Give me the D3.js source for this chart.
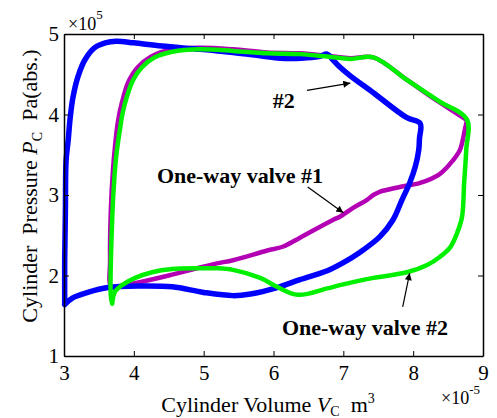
<!DOCTYPE html>
<html>
<head>
<meta charset="utf-8">
<script src="https://cdn.jsdelivr.net/npm/d3@7"></script>
<style>
  body { margin: 0; background: #fff; }
  svg { display: block; font-family: "Liberation Serif", "Times New Roman", serif; }
  text { white-space: pre; }
</style>
</head>
<body>
<svg id="chart" width="497" height="418"></svg>
<script>
// --- Data (volume x1e-5 m^3, pressure x1e5 Pa) ---
const xTicks = [3, 4, 5, 6, 7, 8, 9];
const yTicks = [1, 2, 3, 4, 5];

// baseline cycle (blue)
const blueV = [3.01, 3.01, 3.02, 3.03, 3.06, 3.09, 3.13, 3.20, 3.30, 3.44, 3.59, 3.75, 4.00, 4.40, 4.95, 5.42, 5.81, 6.10, 6.40, 6.65, 6.77, 6.85, 6.95, 7.10, 7.43, 7.91, 8.10,
               8.09, 8.08, 8.03, 7.95, 7.84, 7.71, 7.52, 7.24, 7.00, 6.77, 6.38, 6.05, 5.67, 5.42, 5.00, 4.55, 4.06, 3.63, 3.34, 3.12, 3.01];
const blueP = [1.64, 2.20, 2.80, 3.43, 3.68, 3.97, 4.22, 4.47, 4.68, 4.83, 4.89, 4.91, 4.89, 4.85, 4.81, 4.77, 4.73, 4.70, 4.70, 4.72, 4.75, 4.68, 4.59, 4.48, 4.27, 3.96, 3.89,
               3.70, 3.56, 3.35, 3.15, 2.94, 2.69, 2.48, 2.29, 2.16, 2.06, 1.95, 1.85, 1.77, 1.75, 1.79, 1.86, 1.87, 1.85, 1.79, 1.72, 1.64];

// one-way valve #1 (magenta)
const magentaV = [8.77, 8.74, 8.67, 8.57, 8.38, 8.10, 7.81, 7.52, 7.43, 7.34, 7.14, 6.95, 6.85, 6.38, 6.14, 5.91, 5.42, 5.19, 4.95, 4.50, 4.10, 3.85, 3.68,
                  3.66, 3.67, 3.70, 3.73, 3.77, 3.83, 3.92, 4.05, 4.25, 4.55, 4.95, 5.42, 5.91, 6.38, 6.77, 7.10, 7.43, 7.91, 8.38, 8.77];
const magentaP = [3.93, 3.81, 3.56, 3.43, 3.26, 3.15, 3.10, 3.04, 3.00, 2.94, 2.84, 2.73, 2.69, 2.47, 2.36, 2.31, 2.19, 2.15, 2.10, 2.00, 1.92, 1.88, 1.86,
                  2.20, 2.80, 3.30, 3.60, 3.90, 4.15, 4.40, 4.58, 4.72, 4.81, 4.83, 4.81, 4.77, 4.76, 4.73, 4.70, 4.71, 4.43, 4.15, 3.93];

// one-way valve #2 (green)
const greenV = [3.69, 3.67, 3.69, 3.72, 3.75, 3.80, 3.84, 3.90, 3.99, 4.12, 4.30, 4.55, 4.95, 5.42, 5.91, 6.38, 6.77, 7.10, 7.43, 7.91, 8.38, 8.77,
                8.76, 8.73, 8.70, 8.63, 8.53, 8.38, 8.20, 7.91, 7.43, 6.95, 6.77, 6.35, 6.05, 5.81, 5.42, 5.19, 4.95, 4.55, 4.26, 4.02, 3.83, 3.73, 3.69];
const greenP = [1.65, 1.75, 2.70, 3.20, 3.50, 3.81, 4.02, 4.22, 4.43, 4.59, 4.71, 4.78, 4.81, 4.79, 4.76, 4.75, 4.72, 4.69, 4.71, 4.43, 4.16, 3.94,
                3.56, 3.15, 2.73, 2.53, 2.35, 2.23, 2.13, 2.04, 1.97, 1.88, 1.84, 1.76, 1.86, 1.97, 2.07, 2.09, 2.09, 2.08, 2.04, 1.97, 1.88, 1.80, 1.65];

// annotations: label position and arrow (tail -> head), data coords
const notes = [
  { text: "#2", x: 5.99, y: 4.08, ax1: 6.48, ay1: 4.30, ax2: 7.10, ay2: 4.39 },
  { text: "One-way valve #1", x: 4.33, y: 3.15, ax1: 6.49, ay1: 3.10, ax2: 7.00, ay2: 2.78 },
  { text: "One-way valve #2", x: 6.12, y: 1.26, ax1: 7.85, ay1: 1.61, ax2: 7.95, ay2: 2.03 }
];

// --- Layout ---
const svg = d3.select("#chart");
const plot = { left: 64, right: 483, top: 34, bottom: 356 };

const x = d3.scaleLinear().domain([3, 9]).range([plot.left, plot.right]);
const y = d3.scaleLinear().domain([1, 5]).range([plot.bottom, plot.top]);

svg.append("defs").append("marker")
    .attr("id", "head")
    .attr("viewBox", "0 0 10 10")
    .attr("refX", 10).attr("refY", 5)
    .attr("markerWidth", 9).attr("markerHeight", 7)
    .attr("markerUnits", "userSpaceOnUse")
    .attr("orient", "auto")
  .append("path")
    .attr("d", "M0,0 L10,5 L0,10 Z")
    .attr("fill", "#000");

// --- Curves ---
const line = d3.line()
    .x(d => x(d[0]))
    .y(d => y(d[1]))
    .curve(d3.curveCatmullRom.alpha(0.5));

const series = [
  { v: magentaV, p: magentaP, color: "#b400b4", width: 4.5 },
  { v: blueV, p: blueP, color: "#0000ff", width: 5.5 },
  { v: greenV, p: greenP, color: "#00f000", width: 4.5 }
];

series.forEach(s => {
  svg.append("path")
      .datum(d3.zip(s.v, s.p))
      .attr("d", line)
      .attr("fill", "none")
      .attr("stroke", s.color)
      .attr("stroke-width", s.width)
      .attr("stroke-linejoin", "round")
      .attr("stroke-linecap", "round");
});

// --- Axes (ticks inward, box all round) ---
function styleAxis(g) {
  g.select(".domain").attr("stroke", "#000").attr("stroke-width", 1.5);
  g.selectAll(".tick line").attr("stroke", "#000").attr("stroke-width", 1);
  g.selectAll(".tick text").attr("fill", "#000").attr("font-size", 21)
      .attr("font-family", "Liberation Serif, Times New Roman, serif");
}

svg.append("g")
    .attr("transform", `translate(0,${plot.bottom})`)
    .call(d3.axisBottom(x).tickValues(xTicks).tickFormat(d3.format("d"))
      .tickSizeInner(-5).tickSizeOuter(0).tickPadding(9))
    .call(styleAxis);

svg.append("g")
    .attr("transform", `translate(0,${plot.top})`)
    .call(d3.axisTop(x).tickValues(xTicks).tickSizeInner(-5).tickSizeOuter(0).tickFormat(""))
    .call(styleAxis);

svg.append("g")
    .attr("transform", `translate(${plot.left},0)`)
    .call(d3.axisLeft(y).tickValues(yTicks).tickFormat(d3.format("d"))
      .tickSizeInner(-5).tickSizeOuter(0).tickPadding(5))
    .call(styleAxis);

svg.append("g")
    .attr("transform", `translate(${plot.right},0)`)
    .call(d3.axisRight(y).tickValues(yTicks).tickSizeInner(-5).tickSizeOuter(0).tickFormat(""))
    .call(styleAxis);

// --- Exponent labels ---
const expTop = svg.append("text").attr("x", 68).attr("y", 30).attr("font-size", 18);
expTop.append("tspan").text("\u00d710");
expTop.append("tspan").attr("font-size", 13).attr("dy", -11).text("5");

const expBottom = svg.append("text").attr("x", 441).attr("y", 404).attr("font-size", 18);
expBottom.append("tspan").text("\u00d710");
expBottom.append("tspan").attr("font-size", 13).attr("dy", -10).text("-5");

// --- Axis titles ---
const xt = svg.append("text")
    .attr("x", 268).attr("y", 412)
    .attr("text-anchor", "middle")
    .attr("font-size", 22);
xt.append("tspan").text("Cylinder Volume ");
xt.append("tspan").attr("font-style", "italic").text("V");
xt.append("tspan").attr("font-size", 14).attr("dy", 4).text("C");
xt.append("tspan").attr("dy", -4).text("  m");
xt.append("tspan").attr("font-size", 14).attr("dy", -9).text("3");

const yt = svg.append("text")
    .attr("transform", "translate(37,186) rotate(-90)")
    .attr("text-anchor", "middle")
    .attr("font-size", 22);
yt.append("tspan").text("Cylinder  Pressure ");
yt.append("tspan").attr("font-style", "italic").text("P");
yt.append("tspan").attr("font-size", 14).attr("dy", 5).text("C");
yt.append("tspan").attr("dy", -5).text("  Pa(abs.)");

// --- Annotations ---
notes.forEach(n => {
  svg.append("text")
      .attr("x", x(n.x)).attr("y", y(n.y))
      .attr("font-size", 22)
      .attr("font-weight", "bold")
      .text(n.text);
  svg.append("line")
      .attr("x1", x(n.ax1)).attr("y1", y(n.ay1))
      .attr("x2", x(n.ax2)).attr("y2", y(n.ay2))
      .attr("stroke", "#000")
      .attr("stroke-width", 1.2)
      .attr("marker-end", "url(#head)");
});
</script>
</body>
</html>
